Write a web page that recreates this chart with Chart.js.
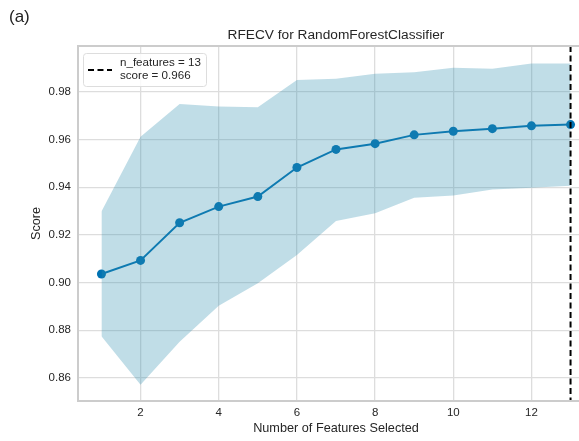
<!DOCTYPE html>
<html>
<head>
<meta charset="utf-8">
<script src="https://cdn.jsdelivr.net/npm/chart.js@4/dist/chart.umd.min.js"></script>
<style>
  html, body { margin: 0; padding: 0; background: #fff; overflow: hidden; }
  #wrap { position: relative; width: 579px; height: 441px; overflow: hidden; }
  #box { position: absolute; left: 0; top: 0; width: 600px; height: 441px; }
  #tag { position: absolute; left: 9px; top: 7px; font: 17px 'Liberation Sans', Arial, sans-serif; color: #222; }
</style>
</head>
<body>
<div id="wrap">
  <div id="box"><canvas id="chart"></canvas></div>
  <div id="tag">(a)</div>
</div>
<script>
// RFECV 数据
const nFeatures = [1, 2, 3, 4, 5, 6, 7, 8, 9, 10, 11, 12, 13];
const meanScore = [0.9036, 0.9093, 0.9251, 0.9319, 0.9361, 0.9483, 0.9559, 0.9583, 0.9620, 0.9635, 0.9646, 0.9658, 0.9663];
const upperScore = [0.9298, 0.9612, 0.9750, 0.9739, 0.9736, 0.9850, 0.9856, 0.9877, 0.9883, 0.9902, 0.9897, 0.9920, 0.9920];
const lowerScore = [0.8775, 0.8571, 0.8752, 0.8903, 0.8997, 0.9116, 0.9259, 0.9291, 0.9356, 0.9365, 0.9391, 0.9398, 0.9406];
const xTicks = [2, 4, 6, 8, 10, 12];
const yTicks = [0.86, 0.88, 0.90, 0.92, 0.94, 0.96, 0.98];
const bestN = 13;
const bestScore = 0.966;
const chartTitle = 'RFECV for RandomForestClassifier';

const FONT = "'Liberation Sans', Arial, sans-serif";
const LINE = '#0072B2';
const TEXT = '#262626';

const pts = arr => arr.map((v, i) => ({ x: nFeatures[i], y: v }));

// 坐标框（右侧在画面外）+ 标题居中于绘图区
const framePlugin = {
    id: 'frame',
    afterDraw(chart) {
        const { ctx, chartArea: a } = chart;
        ctx.save();
        ctx.strokeStyle = '#cccccc';
        ctx.lineWidth = 2;
        ctx.beginPath();
        ctx.moveTo(a.right, a.top);
        ctx.lineTo(a.left, a.top);
        ctx.lineTo(a.left, a.bottom);
        ctx.lineTo(a.right, a.bottom);
        ctx.stroke();

        ctx.fillStyle = TEXT;
        ctx.font = '13.7px ' + FONT;
        ctx.textAlign = 'center';
        ctx.textBaseline = 'middle';
        ctx.fillText(chartTitle, (a.left + a.right) / 2, 35);
        ctx.restore();
    },
};

// 最优特征数的竖线 + 图例
const bestPlugin = {
    id: 'best',
    afterDatasetsDraw(chart) {
        const { ctx, chartArea: a, scales } = chart;
        const px = scales.x.getPixelForValue(bestN);
        ctx.save();
        ctx.strokeStyle = '#000';
        ctx.lineWidth = 2;
        ctx.setLineDash([6, 3.5]);
        ctx.beginPath();
        ctx.moveTo(px, a.top);
        ctx.lineTo(px, a.bottom);
        ctx.stroke();

        // 图例框
        const lx = a.left + 5, ly = a.top + 7, lw = 123, lh = 33;
        ctx.setLineDash([]);
        ctx.fillStyle = 'rgba(255,255,255,0.85)';
        ctx.strokeStyle = '#dddddd';
        ctx.lineWidth = 1;
        ctx.beginPath();
        ctx.roundRect(lx + 0.5, ly + 0.5, lw, lh, 3);
        ctx.fill();
        ctx.stroke();

        ctx.strokeStyle = '#000';
        ctx.lineWidth = 2;
        ctx.setLineDash([6, 3.5]);
        ctx.beginPath();
        ctx.moveTo(lx + 5, ly + 17);
        ctx.lineTo(lx + 29, ly + 17);
        ctx.stroke();

        ctx.fillStyle = TEXT;
        ctx.font = '11.6px ' + FONT;
        ctx.textBaseline = 'middle';
        ctx.fillText('n_features = ' + bestN, lx + 37, ly + 10);
        ctx.fillText('score = ' + bestScore.toFixed(3), lx + 37, ly + 23);
        ctx.restore();
    },
};

new Chart(document.getElementById('chart'), {
    type: 'line',
    data: {
        datasets: [
            {
                label: 'upper',
                data: pts(upperScore),
                borderWidth: 0,
                pointRadius: 0,
                backgroundColor: 'rgba(45, 142, 175, 0.3)',
                fill: '+1',
                tension: 0,
            },
            {
                label: 'lower',
                data: pts(lowerScore),
                borderWidth: 0,
                pointRadius: 0,
                fill: false,
                tension: 0,
            },
            {
                label: 'score',
                data: pts(meanScore),
                borderColor: LINE,
                backgroundColor: LINE,
                borderWidth: 2,
                pointRadius: 4.5,
                pointBorderWidth: 0,
                fill: false,
                tension: 0,
            },
        ],
    },
    options: {
        responsive: true,
        maintainAspectRatio: false,
        animation: false,
        layout: { padding: { left: 0, right: 6, top: 46, bottom: 0 } },
        plugins: {
            legend: { display: false },
            tooltip: { enabled: false },
            title: { display: false },
        },
        scales: {
            x: {
                type: 'linear',
                min: 0.4,
                max: 13.6,
                afterBuildTicks: s => { s.ticks = xTicks.map(v => ({ value: v })); },
                afterFit: s => { s.height = 40; },
                grid: { color: '#dddddd', lineWidth: 1.3, drawTicks: false },
                border: { display: false },
                ticks: {
                    color: TEXT,
                    padding: 5,
                    font: { family: FONT, size: 11.5 },
                    callback: v => String(v),
                },
                title: {
                    display: true,
                    text: 'Number of Features Selected',
                    color: TEXT,
                    font: { family: FONT, size: 12.7 },
                    padding: { top: 0, bottom: 5 },
                },
            },
            y: {
                type: 'linear',
                min: 0.8503,
                max: 0.9993,
                afterBuildTicks: s => { s.ticks = yTicks.map(v => ({ value: v })); },
                afterFit: s => { s.width = 78; },
                grid: { color: '#dddddd', lineWidth: 1.3, drawTicks: false },
                border: { display: false },
                ticks: {
                    color: TEXT,
                    padding: 7,
                    font: { family: FONT, size: 11.5 },
                    callback: v => v.toFixed(2),
                },
                title: {
                    display: true,
                    text: 'Score',
                    color: TEXT,
                    font: { family: FONT, size: 12.7 },
                    padding: { top: 29, bottom: 0 },
                },
            },
        },
    },
    plugins: [framePlugin, bestPlugin],
});
</script>
</body>
</html>
